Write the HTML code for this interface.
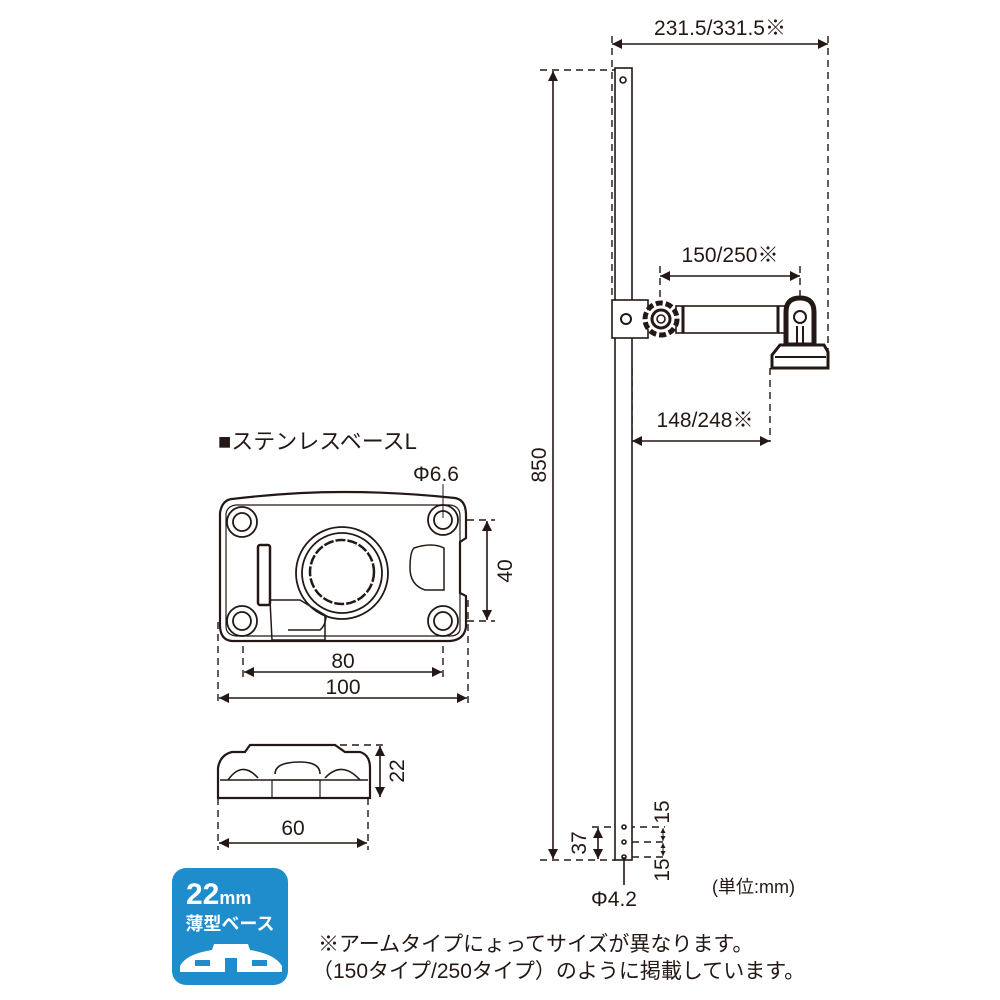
<!DOCTYPE html>
<html><head><meta charset="utf-8"><style>
html,body{margin:0;padding:0;background:#fff;}
svg{display:block;font-family:"Liberation Sans","Noto Sans CJK JP",sans-serif;}
</style></head><body>
<svg width="1000" height="1000" viewBox="0 0 1000 1000" xmlns="http://www.w3.org/2000/svg">
<defs>
<marker id="a" viewBox="0 0 10 10" refX="10" refY="5" markerWidth="14" markerHeight="10" markerUnits="userSpaceOnUse" orient="auto-start-reverse"><path d="M0,0L10,5L0,10z" fill="#231815"/></marker>
<marker id="s" viewBox="0 0 10 10" refX="10" refY="5" markerWidth="6" markerHeight="5" markerUnits="userSpaceOnUse" orient="auto-start-reverse"><path d="M0,0L10,5L0,10z" fill="#231815"/></marker>
</defs>
<g stroke="#231815" fill="none" stroke-width="1.6">
<g stroke-dasharray="7,5" stroke-width="1.4">
<line x1="612" y1="36" x2="612" y2="300"/>
<line x1="828" y1="36" x2="828" y2="366"/>
<line x1="540" y1="70" x2="615" y2="70"/>
<line x1="540" y1="860" x2="615" y2="860"/>
<line x1="660" y1="266" x2="660" y2="302"/>
<line x1="800" y1="266" x2="800" y2="298"/>
<line x1="770" y1="368" x2="770" y2="442"/>
<line x1="632" y1="368" x2="632" y2="442"/>
<line x1="455" y1="520" x2="495" y2="520"/>
<line x1="455" y1="621" x2="495" y2="621"/>
<line x1="243" y1="622" x2="243" y2="680"/>
<line x1="443" y1="622" x2="443" y2="680"/>
<line x1="218" y1="622" x2="218" y2="706"/>
<line x1="468" y1="600" x2="468" y2="706"/>
<line x1="340" y1="745" x2="388" y2="745"/>
<line x1="218" y1="798" x2="218" y2="850"/>
<line x1="368" y1="798" x2="368" y2="850"/>
<line x1="592" y1="827" x2="665" y2="827"/>
<line x1="632" y1="842" x2="665" y2="842"/>
<line x1="632" y1="857" x2="665" y2="857"/>
</g>
<g marker-start="url(#a)" marker-end="url(#a)">
<line x1="612" y1="44" x2="828" y2="44"/>
<line x1="553" y1="71" x2="553" y2="859"/>
<line x1="660" y1="276" x2="800" y2="276"/>
<line x1="632" y1="441" x2="770" y2="441"/>
<line x1="487" y1="521" x2="487" y2="620"/>
<line x1="244" y1="672" x2="442" y2="672"/>
<line x1="219" y1="698" x2="467" y2="698"/>
<line x1="380" y1="746" x2="380" y2="797"/>
<line x1="219" y1="843" x2="367" y2="843"/>
<line x1="598" y1="828" x2="598" y2="859"/>
</g>
<line x1="663" y1="828" x2="663" y2="841" stroke-width="1" marker-start="url(#s)" marker-end="url(#s)"/>
<line x1="663" y1="843" x2="663" y2="856" stroke-width="1" marker-start="url(#s)" marker-end="url(#s)"/>
<rect x="615" y="68" width="17" height="792" fill="#fff"/>
<circle cx="623" cy="80" r="3"/>
<circle cx="624" cy="827" r="2"/><circle cx="624" cy="842" r="2"/><circle cx="624" cy="857" r="2"/>
<line x1="624" y1="857" x2="624" y2="885"/>
<rect x="612" y="300" width="36" height="38" fill="#fff"/>
<circle cx="626" cy="319" r="5" stroke-width="2"/>
<rect x="676" y="306" width="110" height="27" fill="#fff"/>
<line x1="683" y1="306" x2="683" y2="333" stroke-width="3"/>
<line x1="778" y1="306" x2="778" y2="333" stroke-width="3"/>
<circle cx="661" cy="319" r="16" fill="#fff" stroke-width="5" stroke-dasharray="7,3"/>
<circle cx="661" cy="319" r="9" fill="#fff" stroke-width="3"/>
<circle cx="661" cy="319" r="4"/>
<path d="M786,345 L786,312 Q786,298 800,298 Q814,298 814,312 L814,345 Z" fill="#fff" stroke-width="5"/>
<circle cx="800" cy="317" r="6" stroke-width="2"/>
<line x1="797" y1="326" x2="797" y2="345" stroke-width="2"/><line x1="803" y1="326" x2="803" y2="345" stroke-width="2"/>
<path d="M776,350 L780,345 L824,345 L828,352 L828,368 L772,368 L772,355 Z" fill="#fff" stroke-width="3"/>
<line x1="775" y1="357" x2="826" y2="357" stroke-width="2"/>
<path d="M232,499 Q290,492 343,492 Q400,492 455,498 Q466,500 466,515 L466,538 L460,542 L460,593 L466,596 L466,627 Q464,640 450,641 L232,641 Q220,640 220,625 L220,513 Q222,500 232,499 Z" fill="#fff" stroke-width="2.2"/>
<path d="M236,505 L450,505 Q460,506 460,516 L460,630 Q458,636 450,636 L236,636 Q226,635 226,626 L226,514 Q227,506 236,505Z" stroke-width="1.2"/>
<g fill="#fff" stroke-width="1.8">
<circle cx="242" cy="522" r="15"/><circle cx="242" cy="522" r="9"/>
<circle cx="443" cy="520" r="15"/><circle cx="443" cy="520" r="9"/>
<circle cx="242" cy="621" r="15"/><circle cx="242" cy="621" r="9"/>
<circle cx="443" cy="621" r="15"/><circle cx="443" cy="621" r="9"/>
<circle cx="342" cy="573" r="46"/><circle cx="342" cy="573" r="40"/>
<circle cx="342" cy="572" r="32" stroke-dasharray="10,2" stroke-width="2.5"/>
</g>
<path d="M414,548 Q432,542 444,548 L444,590 L425,590 Q410,585 410,568 Q410,552 414,548Z" stroke-width="1.5"/>
<rect x="258" y="545" width="12" height="60" rx="2" stroke-width="2.5"/>
<path d="M270,600 L300,600 L325,615 L325,640 L272,640 Z" stroke-width="1.5"/>
<path d="M288,630 L320,630 Q326,625 326,615" stroke-width="1.5"/>
<line x1="443" y1="484" x2="443" y2="518" stroke-width="1"/>
<path d="M250,745 L335,745 L345,752 L360,752 Q370,755 370,768 L370,798 L218,798 L218,768 Q220,755 232,752 L245,752 Z" fill="#fff" stroke-width="2.2"/>
<path d="M228,780 Q242,760 258,778 M275,774 Q275,762 300,762 Q320,762 320,774 M325,778 Q342,760 360,780" stroke-width="1.6"/>
<line x1="220" y1="780" x2="368" y2="780" stroke-width="1.4"/>
<rect x="272" y="780" width="48" height="18" stroke-width="1.2"/>
</g>
<g fill="#231815" font-size="21">
<text x="720" y="35" text-anchor="middle">231.5/331.5※</text>
<text x="730" y="262" text-anchor="middle">150/250※</text>
<text x="705" y="427" text-anchor="middle">148/248※</text>
<text transform="translate(546,465) rotate(-90)" text-anchor="middle">850</text>
<text transform="translate(512,571) rotate(-90)" text-anchor="middle">40</text>
<text transform="translate(404,771) rotate(-90)" text-anchor="middle">22</text>
<text transform="translate(586,843) rotate(-90)" text-anchor="middle">37</text>
<text transform="translate(669,812) rotate(-90)" text-anchor="middle">15</text>
<text transform="translate(669,870) rotate(-90)" text-anchor="middle">15</text>
<text x="343" y="668" text-anchor="middle">80</text>
<text x="343" y="694" text-anchor="middle">100</text>
<text x="293" y="835" text-anchor="middle">60</text>
<text x="436" y="481" text-anchor="middle">Φ6.6</text>
<text x="614" y="906" text-anchor="middle">Φ4.2</text>
<text x="712" y="893" font-size="18">(単位:mm)</text>
<text x="218" y="449" font-size="22">■ステンレスベースL</text>
<text x="318" y="951" font-size="21">※アームタイプにょってサイズが異なります。</text>
<text x="312" y="978" font-size="21">（150タイプ/250タイプ）のように掲載しています。</text>
</g>
<rect x="172" y="868" width="116" height="117" rx="14" fill="#1f8ccc"/>
<text x="186" y="904" fill="#fff" font-size="30" font-weight="bold">22<tspan font-size="18">mm</tspan></text>
<text x="230" y="930" fill="#fff" font-size="18" font-weight="bold" text-anchor="middle" font-family="Noto Sans CJK JP, sans-serif">薄型ベース</text>
<path d="M214,944 L248,944 L250,950 Q275,954 282,966 L282,972 L180,972 L180,966 Q186,954 212,950 Z" fill="#fff"/>
<g fill="#1f8ccc"><rect x="195" y="960" width="15" height="6"/><rect x="225" y="958" width="12" height="14"/><rect x="252" y="960" width="15" height="6"/></g>
</svg>
</body></html>
